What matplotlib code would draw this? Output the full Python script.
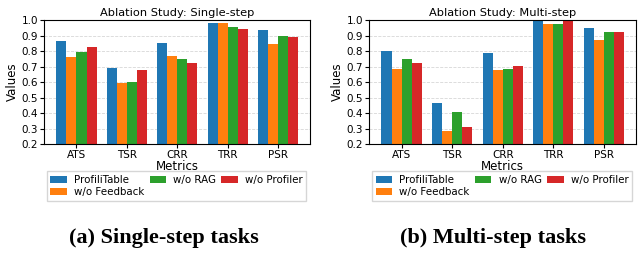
import matplotlib.pyplot as plt
import numpy as np

# metrics and ablation variants
metrics = ['ATS', 'TSR', 'CRR', 'TRR', 'PSR']
variants = ['ProfiliTable', 'w/o Feedback', 'w/o RAG', 'w/o Profiler']
colors = ['#1f77b4', '#ff7f0e', '#2ca02c', '#d62728']

# single-step values
single_profilitable = [0.865, 0.690, 0.852, 0.981, 0.935]
single_no_feedback = [0.761, 0.594, 0.768, 0.981, 0.847]
single_no_rag = [0.794, 0.602, 0.748, 0.955, 0.897]
single_no_profiler = [0.826, 0.677, 0.723, 0.942, 0.890]

# multi-step values
multi_profilitable = [0.800, 0.465, 0.787, 1.000, 0.948]
multi_no_feedback = [0.684, 0.284, 0.677, 0.974, 0.871]
multi_no_rag = [0.748, 0.406, 0.684, 0.974, 0.923]
multi_no_profiler = [0.723, 0.310, 0.703, 1.000, 0.923]

single = [single_profilitable, single_no_feedback, single_no_rag, single_no_profiler]
multi = [multi_profilitable, multi_no_feedback, multi_no_rag, multi_no_profiler]

fig = plt.figure(figsize=(6.4, 2.54), dpi=100)
ax1 = fig.add_axes([0.069, 0.433, 0.416, 0.488])
ax2 = fig.add_axes([0.577, 0.433, 0.417, 0.488])

x = np.arange(len(metrics))
width = 0.2


def draw(ax, data, title):
    for i, (vals, name) in enumerate(zip(data, variants)):
        ax.bar(x + (i - 1.5) * width, vals, width, label=name, color=colors[i])
    ax.set_ylim(0.2, 1.0)
    ax.set_yticks(np.arange(0.2, 1.01, 0.1))
    ax.set_xticks(x)
    ax.set_xticklabels(metrics)
    ax.tick_params(labelsize=7.5, length=3, pad=1.5)
    ax.set_title(title, fontsize=8.2, pad=3)
    ax.set_xlabel('Metrics', fontsize=8.5, labelpad=0)
    ax.set_ylabel('Values', fontsize=8.5, labelpad=2)
    ax.yaxis.grid(True, linestyle='--', alpha=0.5, linewidth=0.6)
    ax.set_axisbelow(True)
    ax.legend(loc='upper left', bbox_to_anchor=(0.01, -0.42, 0.975, 0.2),
              mode='expand', ncol=3, fontsize=7.4, handlelength=1.6,
              handleheight=0.7, handletextpad=0.7, borderaxespad=0,
              labelspacing=0.2, borderpad=0.35, fancybox=False,
              edgecolor='#cccccc')


draw(ax1, single, 'Ablation Study: Single-step')
draw(ax2, multi, 'Ablation Study: Multi-step')

fig.text(0.256, 0.063, '(a) Single-step tasks', ha='center', va='center',
         fontsize=16, fontweight='bold', family='Liberation Serif')
fig.text(0.771, 0.063, '(b) Multi-step tasks', ha='center', va='center',
         fontsize=16, fontweight='bold', family='Liberation Serif')

fig.savefig('out.png', dpi=100)
